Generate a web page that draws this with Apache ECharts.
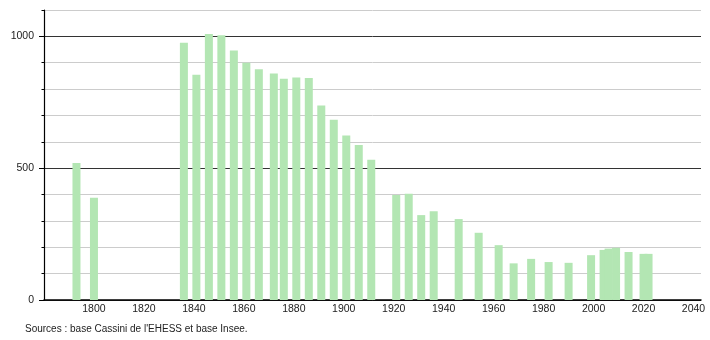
<!DOCTYPE html>
<html><head><meta charset="utf-8">
<script src="https://cdn.jsdelivr.net/npm/echarts@6/dist/echarts.min.js"></script>
<style>html,body{margin:0;padding:0;background:#fff}#c{width:710px;height:340px}</style>
</head><body><div id="c"></div>
<script>
const years = [1793,1800,1836,1841,1846,1851,1856,1861,1866,1872,1876,1881,1886,1891,1896,1901,1906,1911,1921,1926,1931,1936,1946,1954,1962,1968,1975,1982,1990,1999,2004,2006,2009,2014,2020,2022];
const population = [520,388,976,854,1009,1004,946,900,875,859,839,844,842,738,684,624,588,532,398,403,322,337,307,255,208,139,156,144,141,170,190,195,198,182,175,175];
const yTickLabels = [0,500,1000];
const xTickLabels = [1800,1820,1840,1860,1880,1900,1920,1940,1960,1980,2000,2020,2040];
const sourceText = "Sources : base Cassini de l'EHESS et base Insee.";

const chart = echarts.init(document.getElementById('c'), null, {renderer:'canvas'});
const font = 'Liberation Sans, Arial, sans-serif';
chart.setOption({
  animation: false,
  textStyle: {fontFamily: font},
  title: {
    text: sourceText, left: 20, top: 319,
    textStyle: {fontSize: 10, fontWeight: 'normal', color: '#222', fontFamily: font}
  },
  grid: {left: 44, right: 9, top: 10, bottom: 40, containLabel: false},
  xAxis: {
    type: 'value', min: 1780, max: 2043,
    axisLine: {show: true, lineStyle: {color: '#000', width: 1.5}},
    axisTick: {show: false},
    splitLine: {show: false},
    axisLabel: {customValues: xTickLabels, fontSize: 10.5, color: '#222', margin: 4, fontFamily: font,
      formatter: v => xTickLabels.includes(v) ? String(v) : ''}
  },
  yAxis: [{
    type: 'value', min: 0, max: 1100, interval: 100,
    axisLine: {show: true, lineStyle: {color: '#000', width: 1.2}},
    axisTick: {show: true, length: 2.5, lineStyle: {color: '#000'}},
    splitLine: {show: true, showMinLine: true, lineStyle: {color: ['#333','#ccc','#ccc','#ccc','#ccc'], width: 1}},
    axisLabel: {fontSize: 10.5, color: '#222', margin: 10, fontFamily: font,
      formatter: v => yTickLabels.includes(v) ? String(v) : ''}
  }, {
    type: 'value', min: 0, max: 1100, position: 'left',
    axisLine: {show: false},
    axisTick: {show: true, customValues: yTickLabels, length: 5, lineStyle: {color: '#000'}},
    splitLine: {show: false},
    axisLabel: {show: false}
  }],
  series: [{
    type: 'bar',
    barWidth: 8,
    yAxisIndex: 0,
    itemStyle: {color: '#b3e6b3'},
    data: years.map((y,i) => [y, population[i]])
  }]
});
</script>
</body></html>
